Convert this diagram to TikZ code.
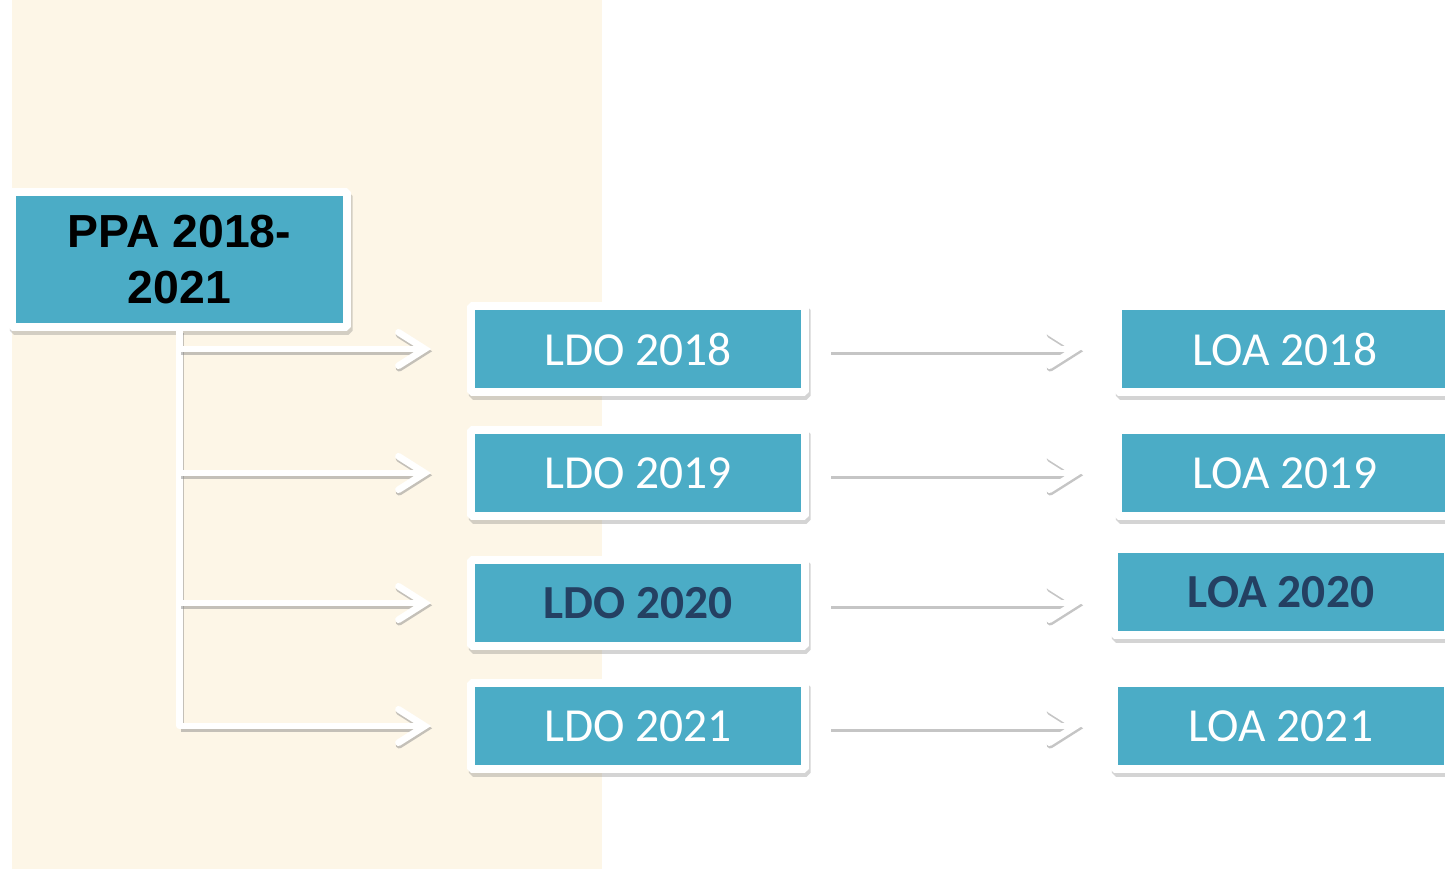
\documentclass[tikz,border=0pt]{standalone}
\usepackage{fontspec}
\setmainfont{Carlito}
\newfontfamily\arialfont{Liberation Sans}
\usetikzlibrary{arrows.meta,shadows}

\definecolor{boxteal}{RGB}{75,172,198}
\definecolor{sandbg}{RGB}{253,246,231}
\definecolor{navytext}{RGB}{36,64,98}

\tikzset{
  lawbox/.style={rectangle, fill=boxteal, draw=white, line width=4.5pt, rounded corners=1pt,
    minimum width=6.68cm, minimum height=1.72cm, text=white, font=\fontsize{27}{32}\selectfont,
    drop shadow={opacity=0.3, fill=black!55, draw=black!55, shadow xshift=1pt, shadow yshift=-2.2pt}},
  keybox/.style={lawbox, text=navytext, font=\fontsize{27}{32}\selectfont\bfseries},
  flow/.style={draw=white, line width=3.8pt,
    preaction={draw=black!50, opacity=0.45, line width=4pt, transform canvas={shift={(0.6pt,-1.3pt)}}}},
  flowarr/.style={flow, line cap=round, -{Straight Barb[length=15pt, width=19pt, line cap=round]}}
}

\begin{document}
\begin{tikzpicture}[x=0.02cm, y=-0.02cm]
        % Background
        \fill[white] (0,0) rectangle (1445,869);
        \fill[sandbg] (12,0) rectangle (602,869);
        \useasboundingbox (0,0) rectangle (1445,869);

        % Draw boxes
        \node[lawbox, minimum width=6.7cm, minimum height=2.7cm, text=black,
          align=center, font=\arialfont\fontsize{26.4}{31.8}\selectfont\bfseries]
          (ppa) at (179.5, 259.5) {PPA 2018-\\2021};
        \node[lawbox] (ldo18) at (638, 349) {LDO 2018};
        \node[lawbox] (ldo19) at (638, 473) {LDO 2019};
        \node[keybox] (ldo20) at (638, 603) {LDO 2020};
        \node[lawbox] (ldo21) at (638, 726) {LDO 2021};
        \node[lawbox] (loa18) at (1285, 349) {LOA 2018};
        \node[lawbox] (loa19) at (1285, 473) {LOA 2019};
        \node[keybox] (loa20) at (1281, 592) {LOA 2020};
        \node[lawbox] (loa21) at (1281, 726) {LOA 2021};

        % Draw trunk and arrows
        \draw[flow] (ppa.south) -- (ppa.south |- ldo21);
        \draw[flowarr, shorten >=0.72cm] (ppa.south |- ldo18) -- (ldo18.west);
        \draw[flowarr, shorten >=0.72cm] (ppa.south |- ldo19) -- (ldo19.west);
        \draw[flowarr, shorten >=0.72cm] (ppa.south |- ldo20) -- (ldo20.west);
        \draw[flowarr, shorten >=0.72cm] (ppa.south |- ldo21) -- (ldo21.west);
        \draw[flowarr, shorten <=0.42cm, shorten >=0.64cm] (ldo18.east) -- (loa18.west);
        \draw[flowarr, shorten <=0.42cm, shorten >=0.64cm] (ldo19.east) -- (loa19.west);
        \draw[flowarr, shorten <=0.42cm, shorten >=0.56cm] (ldo20.east) -- (ldo20.east -| loa20.west);
        \draw[flowarr, shorten <=0.42cm, shorten >=0.56cm] (ldo21.east) -- (loa21.west);
\end{tikzpicture}
\end{document}
